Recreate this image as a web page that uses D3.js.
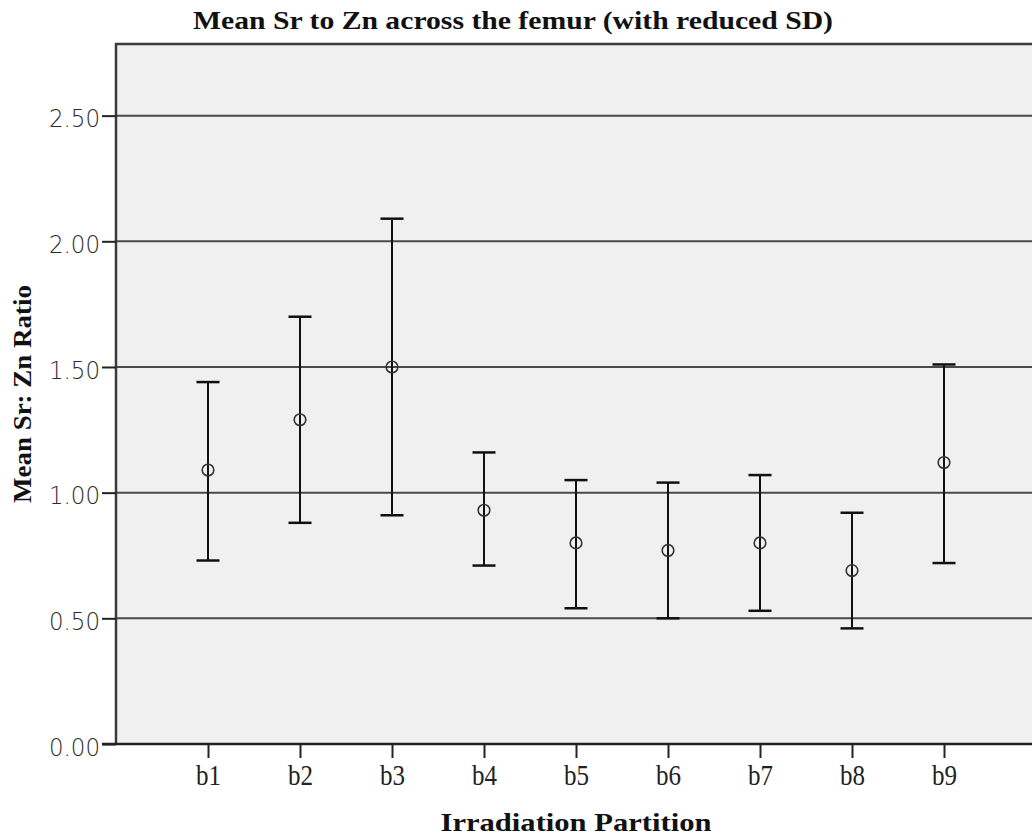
<!DOCTYPE html>
<html>
<head>
<meta charset="utf-8">
<script src="https://cdn.jsdelivr.net/npm/d3@7"></script>
<style>
  html, body { margin: 0; padding: 0; background: #fff; overflow: hidden; }
  svg { display: block; }
</style>
</head>
<body>
<svg id="plot"></svg>
<script>
// values
const partitions = ["b1", "b2", "b3", "b4", "b5", "b6", "b7", "b8", "b9"];
const means = [1.09, 1.29, 1.50, 0.93, 0.80, 0.77, 0.80, 0.69, 1.12];
const upper = [1.44, 1.70, 2.09, 1.16, 1.05, 1.04, 1.07, 0.92, 1.51];
const lower = [0.73, 0.88, 0.91, 0.71, 0.54, 0.50, 0.53, 0.46, 0.72];
const yTicks = [0, 0.5, 1, 1.5, 2, 2.5];

const titleText = "Mean Sr to Zn across the femur (with reduced SD)";
const xTitle = "Irradiation Partition";
const yTitle = "Mean Sr: Zn Ratio";

const margin = { top: 44, right: -4, bottom: 95, left: 116 };
const W = 1032, H = 839;
const width = W - margin.left - margin.right;
const height = H - margin.top - margin.bottom;

const serif = "'Liberation Serif', 'DejaVu Serif', serif";
const sans = "'DejaVu Sans', 'Liberation Sans', sans-serif";

const svgRoot = d3.select("#plot").attr("width", W).attr("height", H);

const svg = svgRoot
  .append("g")
  .attr("transform", `translate(${margin.left},${margin.top})`);

const x = d3.scalePoint().domain(partitions).range([0, width]).padding(1);
const y = d3.scaleLinear().domain([0, 2.785]).range([height, 0]);

const rows = partitions.map((p, i) => ({
  p: p,
  mean: means[i],
  hi: upper[i],
  lo: lower[i],
}));

// plot background
svg
  .append("rect")
  .attr("width", width)
  .attr("height", height)
  .attr("fill", "#f0f0f0");

// horizontal grid lines
svg
  .selectAll(".grid")
  .data(yTicks.filter((d) => d > 0))
  .enter()
  .append("line")
  .attr("class", "grid")
  .attr("x1", 0)
  .attr("x2", width)
  .attr("y1", (d) => y(d))
  .attr("y2", (d) => y(d))
  .attr("stroke", "#4a4a4a")
  .attr("stroke-width", 2);

// frame (top and left edges, right edge falls outside the picture)
svg
  .append("path")
  .attr("d", `M0,${height} V0 H${width + 10}`)
  .attr("fill", "none")
  .attr("stroke", "#3a3a3a")
  .attr("stroke-width", 2.5);

// y axis
const yAxis = svg
  .append("g")
  .call(
    d3.axisLeft(y).tickValues(yTicks).tickFormat(d3.format(".2f")).tickSize(14).tickPadding(2),
  );
yAxis.select(".domain").remove();
yAxis.selectAll(".tick line").attr("stroke", "#222").attr("stroke-width", 2);
yAxis
  .selectAll(".tick text")
  .attr("font-family", sans)
  .attr("font-size", 25)
  .attr("font-weight", 300)
  .attr("fill", "#2a2a2a")
  .attr("dy", "0.45em")
  .attr("textLength", 51)
  .attr("lengthAdjust", "spacingAndGlyphs");

// x axis
const xAxis = svg
  .append("g")
  .attr("transform", `translate(0,${height})`)
  .call(d3.axisBottom(x).tickSize(14).tickPadding(6));
xAxis.select(".domain").remove();
xAxis.selectAll(".tick line").attr("stroke", "#222").attr("stroke-width", 2);
xAxis
  .selectAll(".tick text")
  .attr("font-family", serif)
  .attr("font-size", 29)
  .attr("fill", "#222")
  .attr("textLength", 25)
  .attr("lengthAdjust", "spacingAndGlyphs");

// axis line along the bottom, running slightly past the left edge
svg
  .append("line")
  .attr("x1", -14)
  .attr("x2", width + 10)
  .attr("y1", height)
  .attr("y2", height)
  .attr("stroke", "#222")
  .attr("stroke-width", 2.5);

// error bars
const bars = svg.selectAll(".bar").data(rows).enter().append("g").attr("class", "bar");
const cap = 11.5;

bars
  .append("line")
  .attr("x1", (d) => x(d.p))
  .attr("x2", (d) => x(d.p))
  .attr("y1", (d) => y(d.hi))
  .attr("y2", (d) => y(d.lo))
  .attr("stroke", "#111")
  .attr("stroke-width", 2);

bars
  .append("line")
  .attr("x1", (d) => x(d.p) - cap)
  .attr("x2", (d) => x(d.p) + cap)
  .attr("y1", (d) => y(d.hi))
  .attr("y2", (d) => y(d.hi))
  .attr("stroke", "#111")
  .attr("stroke-width", 2.5);

bars
  .append("line")
  .attr("x1", (d) => x(d.p) - cap)
  .attr("x2", (d) => x(d.p) + cap)
  .attr("y1", (d) => y(d.lo))
  .attr("y2", (d) => y(d.lo))
  .attr("stroke", "#111")
  .attr("stroke-width", 2.5);

bars
  .append("circle")
  .attr("cx", (d) => x(d.p))
  .attr("cy", (d) => y(d.mean))
  .attr("r", 5.8)
  .attr("fill", "none")
  .attr("stroke", "#333")
  .attr("stroke-width", 1.6);

// titles
svgRoot
  .append("text")
  .attr("x", 513)
  .attr("y", 29)
  .attr("text-anchor", "middle")
  .attr("font-family", serif)
  .attr("font-weight", "bold")
  .attr("font-size", 25)
  .attr("fill", "#111")
  .attr("textLength", 640)
  .attr("lengthAdjust", "spacingAndGlyphs")
  .text(titleText);

svgRoot
  .append("text")
  .attr("x", margin.left + width / 2)
  .attr("y", 831)
  .attr("text-anchor", "middle")
  .attr("font-family", serif)
  .attr("font-weight", "bold")
  .attr("font-size", 26)
  .attr("fill", "#111")
  .attr("textLength", 271)
  .attr("lengthAdjust", "spacingAndGlyphs")
  .text(xTitle);

svgRoot
  .append("text")
  .attr("transform", `translate(31,${margin.top + height / 2}) rotate(-90)`)
  .attr("text-anchor", "middle")
  .attr("font-family", serif)
  .attr("font-weight", "bold")
  .attr("font-size", 25)
  .attr("fill", "#111")
  .attr("textLength", 218)
  .attr("lengthAdjust", "spacingAndGlyphs")
  .text(yTitle);
</script>
</body>
</html>
